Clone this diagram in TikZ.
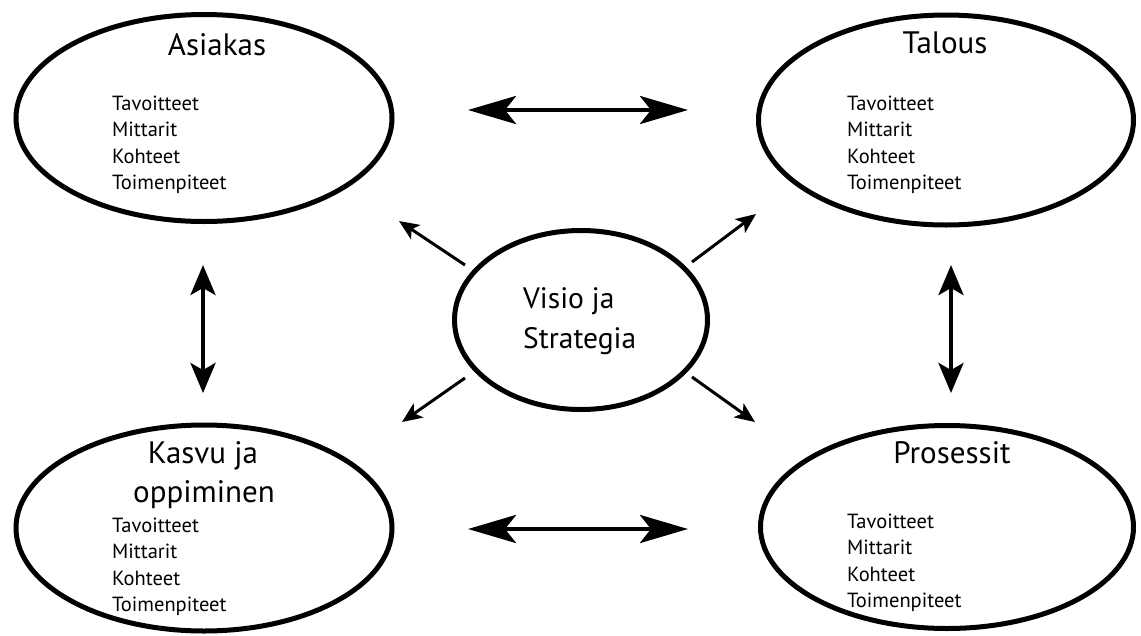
\documentclass[tikz,border=0pt]{standalone}
\usepackage{fontspec}
\setmainfont{PT Sans}
\usetikzlibrary{shapes.geometric,arrows.meta}
\begin{document}
\begin{tikzpicture}[x=1pt,y=-1pt,
  ring/.style={draw,ellipse,line width=5pt,inner sep=0pt},
  heading/.style={anchor=base,inner sep=0pt,font=\fontsize{31}{36}\selectfont},
  core/.style={anchor=base west,inner sep=0pt,font=\fontsize{29.5}{36}\selectfont},
  entry/.style={anchor=base west,inner sep=0pt,font=\fontsize{20.5}{26}\selectfont},
  wide/.style={line width=4.5pt,
    {Stealth[length=48pt,width=28pt,inset=11pt]}-{Stealth[length=48pt,width=28pt,inset=11pt]}},
  tall/.style={line width=4pt,
    {Stealth[length=30pt,width=25pt,inset=7pt]}-{Stealth[length=30pt,width=25pt,inset=7pt]}},
  spoke/.style={line width=3pt,-{Stealth[length=20pt,width=17pt,inset=5pt]}}
]
\useasboundingbox (0,0) rectangle (1141,635);

% the four perspectives and the centre
\node[ring,minimum width=376pt,minimum height=207pt] (A) at (204,118) {};
\node[ring,minimum width=375pt,minimum height=210pt] (T) at (946,120) {};
\node[ring,minimum width=376pt,minimum height=206pt] (K) at (204,528) {};
\node[ring,minimum width=373pt,minimum height=203pt] (P) at (947,527) {};
\node[ring,minimum width=253pt,minimum height=179pt] (V) at (581,320) {};

% headings
\node[heading] (At) at (217,55) {Asiakas};
\node[heading] (Tt) at (945,53) {Talous};
\node[heading] (Kt1) at (203,463) {Kasvu ja};
\node[heading] (Kt2) at (204,502) {oppiminen};
\node[heading] (Pt) at (952,463) {Prosessit};
\node[core] (Vt1) at (523,308) {Visio ja};
\node[core] (Vt2) at (523,348) {Strategia};

% item lists
\foreach \n/\x/\y in {A/112/110, T/847/110, K/112/532, P/847/528}{
  \node[entry] (\n-1) at (\x,\y) {Tavoitteet};
  \node[entry] (\n-2) at (\x,\y+26.6) {Mittarit};
  \node[entry] (\n-3) at (\x,\y+53.2) {Kohteet};
  \node[entry] (\n-4) at (\x,\y+79.8) {Toimenpiteet};
}

% arrow end points
\coordinate (AT1) at (468,110);  \coordinate (AT2) at (688,110);
\coordinate (KP1) at (468,529);  \coordinate (KP2) at (688,529);
\coordinate (AK1) at (203,265);  \coordinate (AK2) at (203,393);
\coordinate (TP1) at (951,265);  \coordinate (TP2) at (951,393);
\coordinate (VA0) at (465,265);  \coordinate (VA) at (399,221);
\coordinate (VT0) at (692,262);  \coordinate (VT) at (756,214);
\coordinate (VK0) at (465,378);  \coordinate (VK) at (402,422);
\coordinate (VP0) at (692,377);  \coordinate (VP) at (755,422);

% links between perspectives
\draw[wide] (AT1) -- (AT2);
\draw[wide] (KP1) -- (KP2);
\draw[tall] (AK1) -- (AK2);
\draw[tall] (TP1) -- (TP2);

% spokes from the centre
\draw[spoke] (VA0) -- (VA);
\draw[spoke] (VT0) -- (VT);
\draw[spoke] (VK0) -- (VK);
\draw[spoke] (VP0) -- (VP);
\end{tikzpicture}
\end{document}
